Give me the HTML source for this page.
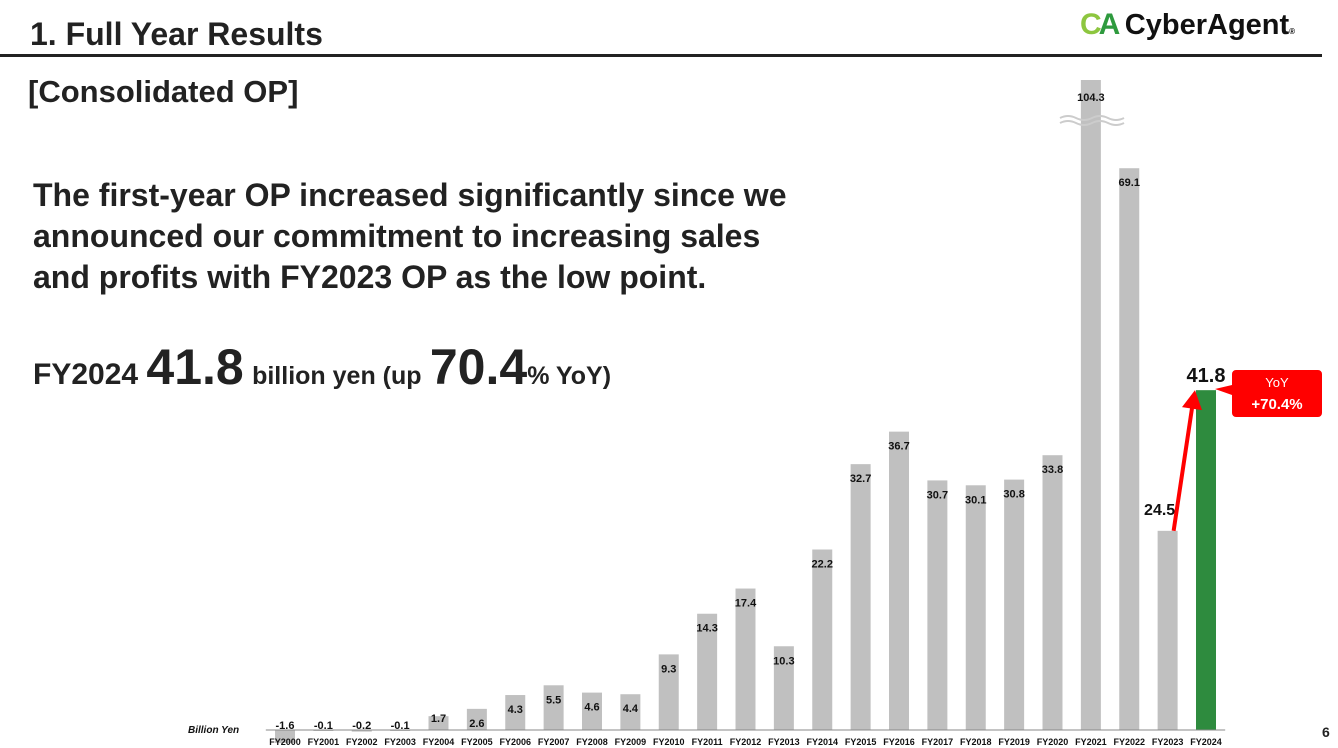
<!DOCTYPE html>
<html><head><meta charset="utf-8"><style>
body{margin:0;width:1338px;height:748px;background:#fff;font-family:"Liberation Sans",sans-serif;overflow:hidden;position:relative}
.t{position:absolute;color:#222;font-weight:bold;white-space:nowrap}
</style></head><body>
<div class="t" style="left:30px;top:16px;font-size:32px">1. Full Year Results</div>
<div style="position:absolute;left:0;top:54px;width:1322px;height:3px;background:#222"></div>
<div style="position:absolute;left:1080px;top:8px;font-weight:bold;white-space:nowrap">
<span style="color:#8dc63f;font-size:30px;letter-spacing:-3px">C</span><span style="color:#2e9a3e;font-size:30px">A</span>
<span style="font-size:29px;color:#111">CyberAgent</span><span style="font-size:8px">®</span></div>
<div class="t" style="left:28px;top:74px;font-size:31px;color:#222">[Consolidated OP]</div>
<div class="t" style="left:33px;top:175px;font-size:32px;line-height:41px">The first-year OP increased significantly since we<br>announced our commitment to increasing sales<br>and profits with FY2023 OP as the low point.</div>
<div class="t" style="left:33px;top:338px;font-size:30px">FY2024 <span style="font-size:50px">41.8</span> <span style="font-size:25px">billion yen (up</span> <span style="font-size:50px">70.4</span><span style="font-size:25px">% YoY)</span></div>
<svg id="c" width="1338" height="748" style="position:absolute;left:0;top:0"></svg>
<div class="t" style="left:1322px;top:724px;font-size:14px">6</div>
<script>
const years=["FY2000","FY2001","FY2002","FY2003","FY2004","FY2005","FY2006","FY2007","FY2008","FY2009","FY2010","FY2011","FY2012","FY2013","FY2014","FY2015","FY2016","FY2017","FY2018","FY2019","FY2020","FY2021","FY2022","FY2023","FY2024"];
const values=[-1.6,-0.1,-0.2,-0.1,1.7,2.6,4.3,5.5,4.6,4.4,9.3,14.3,17.4,10.3,22.2,32.7,36.7,30.7,30.1,30.8,33.8,104.3,69.1,24.5,41.8];
const s=document.getElementById('c'),NS="http://www.w3.org/2000/svg";
const base=730,k=8.13,x0=285,step=38.375,bw=20,capTop=80;
const X=i=>x0+i*step, Y=v=>base-v*k;
function mk(t,a,p){const e=document.createElementNS(NS,t);for(const n in a)e.setAttribute(n,a[n]);(p||s).appendChild(e);return e;}
const last=values.length-1;
values.forEach((v,i)=>{
 let top=Math.max(Y(v),capTop), y=Math.min(top,base), h=Math.abs(base-top);
 const r=mk('rect',{x:X(i)-bw/2,y:y,width:bw,height:Math.max(h,1),fill:i==last?'#2e8b3e':'#c0c0c0'});
 
 
 const big=i>=last-1;
 let ly;
 if(big) ly=top-(i==last?8:16);
 else if(v<2) ly=base+ (v<0?-1:-4)+(v>0?-4:0);
 else ly=top+18;
 if(i==21) ly=101;
 const tx=mk('text',{x:X(i)+(i==last-1?-8:0),y:ly,'text-anchor':'middle','font-size':big?(i==last?20:16):11,'font-weight':'bold',fill:'#111'});
 tx.textContent=v.toFixed(1);
 
 
 const xl=mk('text',{x:X(i),y:745,'text-anchor':'middle','font-size':9,'font-weight':'bold',fill:'#111'});
 xl.textContent=years[i];
 
 
});
const ax=mk('line',{x1:X(0)-step/2,x2:X(last)+step/2,y1:base,y2:base,stroke:'#888','stroke-width':1});


const bk=mk('path',{d:'M1060 118 q8 -4 16 0 t16 0 t16 0 t16 0 M1060 123 q8 -4 16 0 t16 0 t16 0 t16 0',stroke:'#ccc','stroke-width':2,fill:'none'});


const un=mk('text',{x:188,y:733,'font-size':10,'font-weight':'bold','font-style':'italic',fill:'#111'});
un.textContent='Billion Yen';


const ar=mk('path',{d:`M${X(last-1)+6} ${Y(values[last-1])} L${X(last)-14} ${Y(values[last])+18}`,stroke:'#f00','stroke-width':4,fill:'none'});


const ah=mk('path',{d:`M${X(last)-24} ${Y(values[last])+17} L${X(last)-11} ${Y(values[last])} L${X(last)-4} ${Y(values[last])+20}Z`,fill:'#f00'});


const cb=mk('path',{d:'M1236 370 H1318 a4 4 0 0 1 4 4 V413 a4 4 0 0 1 -4 4 H1236 a4 4 0 0 1 -4 -4 V395 L1215 389 L1232 385 V374 a4 4 0 0 1 4 -4Z',fill:'#f00'});


const c1=mk('text',{x:1277,y:387,'text-anchor':'middle','font-size':13,fill:'#fff'});c1.textContent='YoY';


const c2=mk('text',{x:1277,y:409,'text-anchor':'middle','font-size':15,'font-weight':'bold',fill:'#fff'});c2.textContent='+70.4%';


</script>
</body></html>
